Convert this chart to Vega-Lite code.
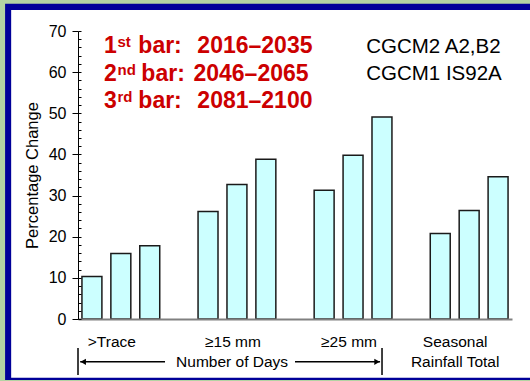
{
  "$schema": "https://vega.github.io/schema/vega-lite/v6.json",
  "width": 434,
  "height": 288,
  "autosize": "none",
  "padding": {"left": 78, "top": 31, "right": 18, "bottom": 62},
  "background": "#b3d3a3",
  "config": {"view": {"stroke": null}, "font": "Liberation Sans", "axis": {"zindex": 1}},
  "data": {"values": [{}]},
  "datasets": {
    "rain": [
      {"category": ">Trace", "period": "2016–2035", "change": 10.3},
      {"category": ">Trace", "period": "2046–2065", "change": 15.9},
      {"category": ">Trace", "period": "2081–2100", "change": 17.8},
      {"category": "≥15 mm", "period": "2016–2035", "change": 26.1},
      {"category": "≥15 mm", "period": "2046–2065", "change": 32.7},
      {"category": "≥15 mm", "period": "2081–2100", "change": 38.8},
      {"category": "≥25 mm", "period": "2016–2035", "change": 31.3},
      {"category": "≥25 mm", "period": "2046–2065", "change": 39.8},
      {"category": "≥25 mm", "period": "2081–2100", "change": 49.1},
      {"category": "Seasonal Rainfall Total", "period": "2016–2035", "change": 20.8},
      {"category": "Seasonal Rainfall Total", "period": "2046–2065", "change": 26.4},
      {"category": "Seasonal Rainfall Total", "period": "2081–2100", "change": 34.6}
    ]
  },
  "layer": [
    {
      "mark": {"type": "rect", "fill": "#000099"},
      "encoding": {
        "x": {"datum": -16.8, "type": "quantitative", "scale": {"domain": [0, 100]}, "axis": null},
        "x2": {"datum": 106.5},
        "y": {"datum": 76.6, "type": "quantitative", "scale": {"domain": [0, 70], "nice": false}, "axis": null},
        "y2": {"datum": -14.8}
      }
    },
    {
      "mark": {"type": "rect", "fill": "#ffffff"},
      "encoding": {
        "x": {"datum": -15.4, "type": "quantitative", "scale": {"domain": [0, 100]}, "axis": null},
        "x2": {"datum": 106.5},
        "y": {"datum": 75.1, "type": "quantitative", "scale": {"domain": [0, 70], "nice": false}, "axis": null},
        "y2": {"datum": -14.3}
      }
    },
    {
      "data": {"name": "rain"},
      "mark": {"type": "bar", "fill": "#ccffff", "stroke": "#1a1a1a", "strokeWidth": 1.5},
      "encoding": {
        "x": {
          "field": "category", "type": "nominal",
          "sort": [">Trace", "≥15 mm", "≥25 mm", "Seasonal Rainfall Total"],
          "scale": {"paddingInner": 0.33, "paddingOuter": 0.034},
          "axis": {
            "title": null, "ticks": false, "domainColor": "#808080", "domainWidth": 2,
            "labelFontSize": 15.5, "labelColor": "black", "labelPadding": 15, "labelAngle": 0,
            "labelLineHeight": 20.5,
            "labelExpr": "datum.value == 'Seasonal Rainfall Total' ? ['Seasonal', 'Rainfall Total'] : datum.value",
            "labelOffset": {"condition": [
              {"test": "datum.value == '>Trace'", "value": -9},
              {"test": "datum.value == 'Seasonal Rainfall Total'", "value": -14}
            ], "value": -4},
            "zindex": 1
          }
        },
        "xOffset": {
          "field": "period", "type": "nominal",
          "sort": ["2016–2035", "2046–2065", "2081–2100"],
          "scale": {"paddingInner": 0.31, "paddingOuter": 0}
        },
        "y": {
          "field": "change", "type": "quantitative",
          "scale": {"domain": [0, 70], "nice": false},
          "axis": {
            "values": [0, 10, 20, 30, 40, 50, 60, 70], "tickSize": 6, "tickColor": "black",
            "domainColor": "black", "labelFontSize": 16, "labelColor": "black", "labelPadding": 6,
            "title": "Percentage Change", "titleFontSize": 16.5, "titleFontWeight": "normal",
            "titleColor": "black", "titlePadding": 8, "grid": false, "zindex": 1
          }
        }
      }
    },
    {
      "mark": {"type": "point", "opacity": 0},
      "encoding": {
        "y": {
          "datum": 0, "type": "quantitative", "scale": {"domain": [0, 70], "nice": false},
          "axis": {
            "orient": "left",
            "values": [0, 2, 4, 6, 8, 10, 12, 14, 16, 18, 20, 22, 24, 26, 28, 30, 32, 34, 36, 38, 40, 42, 44, 46, 48, 50, 52, 54, 56, 58, 60, 62, 64, 66, 68, 70],
            "tickSize": -3, "tickColor": "black", "labels": false, "domain": false,
            "title": null, "grid": false, "zindex": 1
          }
        }
      }
    },
    {
      "mark": {"type": "rule", "stroke": "black", "strokeWidth": 1.5},
      "encoding": {
        "x": {"datum": 0, "type": "quantitative", "scale": {"domain": [0, 100]}, "axis": null},
        "y": {"datum": -7.05, "type": "quantitative", "scale": {"domain": [0, 70], "nice": false}, "axis": null},
        "y2": {"datum": -13.6}
      }
    },
    {
      "mark": {"type": "rule", "stroke": "black", "strokeWidth": 1.5},
      "encoding": {
        "x": {"datum": 70.05, "type": "quantitative", "scale": {"domain": [0, 100]}, "axis": null},
        "y": {"datum": -7.05, "type": "quantitative", "scale": {"domain": [0, 70], "nice": false}, "axis": null},
        "y2": {"datum": -13.6}
      }
    },
    {
      "mark": {"type": "rule", "stroke": "black", "strokeWidth": 1.5},
      "encoding": {
        "x": {"datum": 0.5, "type": "quantitative", "scale": {"domain": [0, 100]}, "axis": null},
        "x2": {"datum": 20.05},
        "y": {"datum": -10.4, "type": "quantitative", "scale": {"domain": [0, 70], "nice": false}, "axis": null}
      }
    },
    {
      "mark": {"type": "rule", "stroke": "black", "strokeWidth": 1.5},
      "encoding": {
        "x": {"datum": 50.0, "type": "quantitative", "scale": {"domain": [0, 100]}, "axis": null},
        "x2": {"datum": 69.6},
        "y": {"datum": -10.4, "type": "quantitative", "scale": {"domain": [0, 70], "nice": false}, "axis": null}
      }
    },
    {
      "mark": {"type": "point", "shape": "triangle-left", "filled": true, "fill": "black", "stroke": null, "opacity": 1, "size": 40},
      "encoding": {
        "x": {"datum": 1.2, "type": "quantitative", "scale": {"domain": [0, 100]}, "axis": null},
        "y": {"datum": -10.4, "type": "quantitative", "scale": {"domain": [0, 70], "nice": false}, "axis": null}
      }
    },
    {
      "mark": {"type": "point", "shape": "triangle-right", "filled": true, "fill": "black", "stroke": null, "opacity": 1, "size": 40},
      "encoding": {
        "x": {"datum": 68.9, "type": "quantitative", "scale": {"domain": [0, 100]}, "axis": null},
        "y": {"datum": -10.4, "type": "quantitative", "scale": {"domain": [0, 70], "nice": false}, "axis": null}
      }
    },
    {
      "mark": {"type": "text", "text": "Number of Days", "align": "center", "baseline": "alphabetic", "fontSize": 15.5, "fill": "black"},
      "encoding": {
        "x": {"datum": 35.5, "type": "quantitative", "scale": {"domain": [0, 100]}, "axis": null},
        "y": {"datum": -11.6, "type": "quantitative", "scale": {"domain": [0, 70], "nice": false}, "axis": null}
      }
    },
    {
      "mark": {"type": "text", "text": "CGCM2 A2,B2", "align": "left", "baseline": "alphabetic", "fontSize": 20.5, "fill": "black"},
      "encoding": {
        "x": {"datum": 66.4, "type": "quantitative", "scale": {"domain": [0, 100]}, "axis": null},
        "y": {"datum": 64.65, "type": "quantitative", "scale": {"domain": [0, 70], "nice": false}, "axis": null}
      }
    },
    {
      "mark": {"type": "text", "text": "CGCM1 IS92A", "align": "left", "baseline": "alphabetic", "fontSize": 20.5, "fill": "black"},
      "encoding": {
        "x": {"datum": 66.4, "type": "quantitative", "scale": {"domain": [0, 100]}, "axis": null},
        "y": {"datum": 58.1, "type": "quantitative", "scale": {"domain": [0, 70], "nice": false}, "axis": null}
      }
    },
    {
      "mark": {"type": "text", "text": "1", "align": "left", "baseline": "alphabetic", "fontSize": 23, "fontWeight": "bold", "fill": "#cc0000"},
      "encoding": {
        "x": {"datum": 6.0, "type": "quantitative", "scale": {"domain": [0, 100]}, "axis": null},
        "y": {"datum": 64.65, "type": "quantitative", "scale": {"domain": [0, 70], "nice": false}, "axis": null}
      }
    },
    {
      "mark": {"type": "text", "text": "st", "align": "left", "baseline": "alphabetic", "fontSize": 15, "fontWeight": "bold", "fill": "#cc0000", "dy": -6},
      "encoding": {
        "x": {"datum": 9.1, "type": "quantitative", "scale": {"domain": [0, 100]}, "axis": null},
        "y": {"datum": 64.65, "type": "quantitative", "scale": {"domain": [0, 70], "nice": false}, "axis": null}
      }
    },
    {
      "mark": {"type": "text", "text": "bar:", "align": "left", "baseline": "alphabetic", "fontSize": 23, "fontWeight": "bold", "fill": "#cc0000"},
      "encoding": {
        "x": {"datum": 13.9, "type": "quantitative", "scale": {"domain": [0, 100]}, "axis": null},
        "y": {"datum": 64.65, "type": "quantitative", "scale": {"domain": [0, 70], "nice": false}, "axis": null}
      }
    },
    {
      "mark": {"type": "text", "text": "2016–2035", "align": "left", "baseline": "alphabetic", "fontSize": 23, "fontWeight": "bold", "fill": "#cc0000"},
      "encoding": {
        "x": {"datum": 27.5, "type": "quantitative", "scale": {"domain": [0, 100]}, "axis": null},
        "y": {"datum": 64.65, "type": "quantitative", "scale": {"domain": [0, 70], "nice": false}, "axis": null}
      }
    },
    {
      "mark": {"type": "text", "text": "2", "align": "left", "baseline": "alphabetic", "fontSize": 23, "fontWeight": "bold", "fill": "#cc0000"},
      "encoding": {
        "x": {"datum": 6.0, "type": "quantitative", "scale": {"domain": [0, 100]}, "axis": null},
        "y": {"datum": 57.95, "type": "quantitative", "scale": {"domain": [0, 70], "nice": false}, "axis": null}
      }
    },
    {
      "mark": {"type": "text", "text": "nd", "align": "left", "baseline": "alphabetic", "fontSize": 15, "fontWeight": "bold", "fill": "#cc0000", "dy": -6},
      "encoding": {
        "x": {"datum": 9.1, "type": "quantitative", "scale": {"domain": [0, 100]}, "axis": null},
        "y": {"datum": 57.95, "type": "quantitative", "scale": {"domain": [0, 70], "nice": false}, "axis": null}
      }
    },
    {
      "mark": {"type": "text", "text": "bar:", "align": "left", "baseline": "alphabetic", "fontSize": 23, "fontWeight": "bold", "fill": "#cc0000"},
      "encoding": {
        "x": {"datum": 14.6, "type": "quantitative", "scale": {"domain": [0, 100]}, "axis": null},
        "y": {"datum": 57.95, "type": "quantitative", "scale": {"domain": [0, 70], "nice": false}, "axis": null}
      }
    },
    {
      "mark": {"type": "text", "text": "2046–2065", "align": "left", "baseline": "alphabetic", "fontSize": 23, "fontWeight": "bold", "fill": "#cc0000"},
      "encoding": {
        "x": {"datum": 26.6, "type": "quantitative", "scale": {"domain": [0, 100]}, "axis": null},
        "y": {"datum": 57.95, "type": "quantitative", "scale": {"domain": [0, 70], "nice": false}, "axis": null}
      }
    },
    {
      "mark": {"type": "text", "text": "3", "align": "left", "baseline": "alphabetic", "fontSize": 23, "fontWeight": "bold", "fill": "#cc0000"},
      "encoding": {
        "x": {"datum": 6.0, "type": "quantitative", "scale": {"domain": [0, 100]}, "axis": null},
        "y": {"datum": 51.3, "type": "quantitative", "scale": {"domain": [0, 70], "nice": false}, "axis": null}
      }
    },
    {
      "mark": {"type": "text", "text": "rd", "align": "left", "baseline": "alphabetic", "fontSize": 15, "fontWeight": "bold", "fill": "#cc0000", "dy": -6},
      "encoding": {
        "x": {"datum": 9.1, "type": "quantitative", "scale": {"domain": [0, 100]}, "axis": null},
        "y": {"datum": 51.3, "type": "quantitative", "scale": {"domain": [0, 70], "nice": false}, "axis": null}
      }
    },
    {
      "mark": {"type": "text", "text": "bar:", "align": "left", "baseline": "alphabetic", "fontSize": 23, "fontWeight": "bold", "fill": "#cc0000"},
      "encoding": {
        "x": {"datum": 13.9, "type": "quantitative", "scale": {"domain": [0, 100]}, "axis": null},
        "y": {"datum": 51.3, "type": "quantitative", "scale": {"domain": [0, 70], "nice": false}, "axis": null}
      }
    },
    {
      "mark": {"type": "text", "text": "2081–2100", "align": "left", "baseline": "alphabetic", "fontSize": 23, "fontWeight": "bold", "fill": "#cc0000"},
      "encoding": {
        "x": {"datum": 27.5, "type": "quantitative", "scale": {"domain": [0, 100]}, "axis": null},
        "y": {"datum": 51.3, "type": "quantitative", "scale": {"domain": [0, 70], "nice": false}, "axis": null}
      }
    }
  ],
  "resolve": {"scale": {"x": "independent"}, "axis": {"x": "independent", "y": "independent"}}
}
